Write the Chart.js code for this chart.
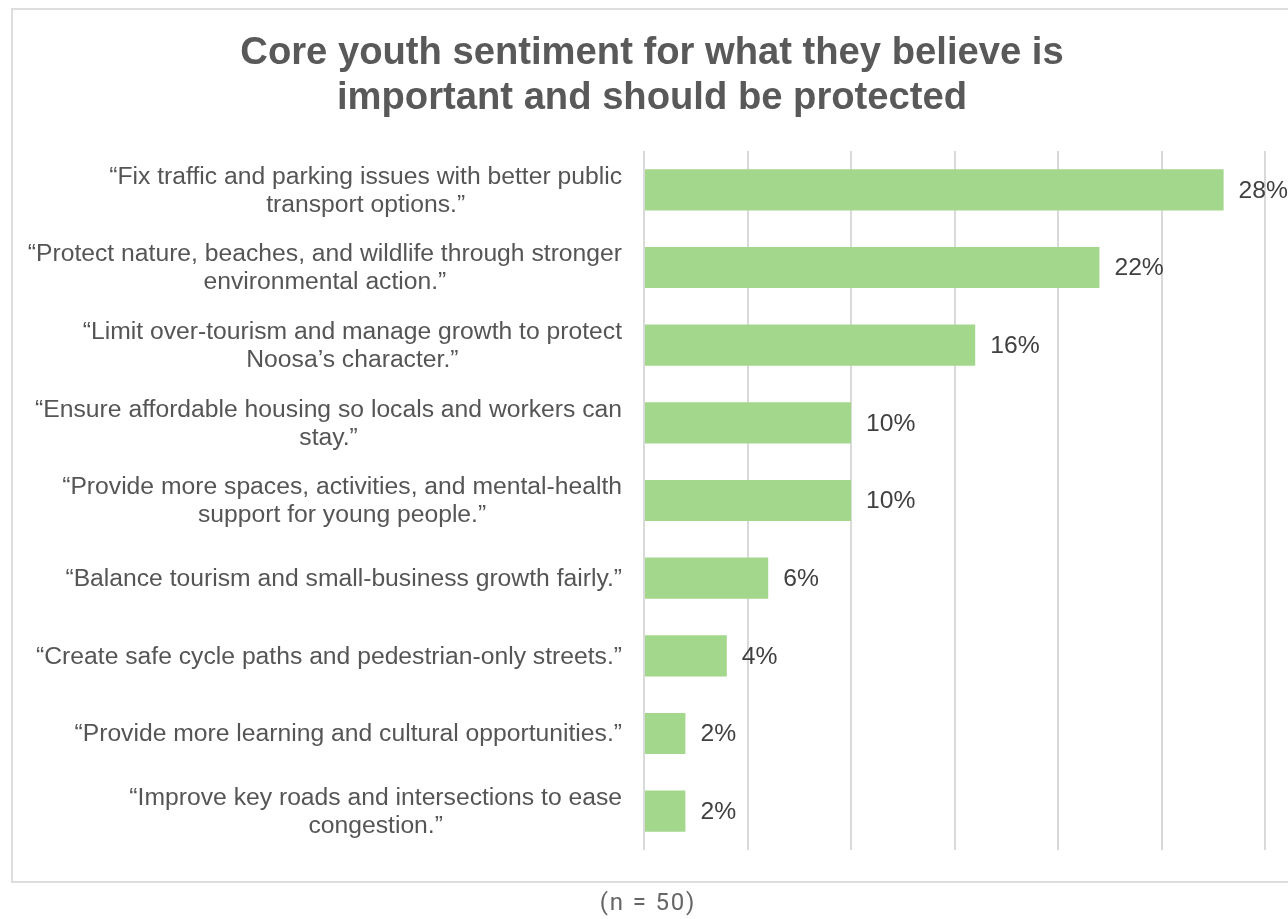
<!DOCTYPE html>
<html>
<head>
<meta charset="utf-8">
<script src="https://cdn.jsdelivr.net/npm/chart.js@4/dist/chart.umd.min.js"></script>
<style>
  html, body { margin: 0; padding: 0; background: #fff; }
  body { width: 1288px; height: 919px; position: relative; overflow: hidden; }
  #frame {
    position: absolute; left: 11px; top: 8px;
    width: 1300px; height: 871px;
    border: 2px solid #dddddd;
  }
  #wrap { position: absolute; left: 0; top: 0; width: 1288px; height: 919px; }
  #note {
    position: absolute; left: 0; width: 1296px; top: 888px;
    text-align: center; font-family: Roboto, "Noto Sans", sans-serif;
    font-size: 24px; letter-spacing: 1.8px; color: #666;
  }
</style>
</head>
<body>
<div id="frame"></div>
<div id="wrap"><canvas id="chart"></canvas></div>
<div id="note">(n = 50)</div>
<script>
const titleLines = ['Core youth sentiment for what they believe is', 'important and should be protected'];

const answers = [
  ['“Fix traffic and parking issues with better public', 'transport options.”'],
  ['“Protect nature, beaches, and wildlife through stronger', 'environmental action.”'],
  ['“Limit over-tourism and manage growth to protect', 'Noosa’s character.”'],
  ['“Ensure affordable housing so locals and workers can', 'stay.”'],
  ['“Provide more spaces, activities, and mental-health', 'support for young people.”'],
  ['“Balance tourism and small-business growth fairly.”'],
  ['“Create safe cycle paths and pedestrian-only streets.”'],
  ['“Provide more learning and cultural opportunities.”'],
  ['“Improve key roads and intersections to ease', 'congestion.”']
];
const shares = [28, 22, 16, 10, 10, 6, 4, 2, 2];

const FONT = '"Liberation Sans", Arial, sans-serif';

// title, centred over the frame
const titlePlugin = {
  id: 'titleText',
  afterDraw(chart) {
    const ctx = chart.ctx;
    ctx.save();
    ctx.font = 'bold 38.2px ' + FONT;
    ctx.fillStyle = '#595959';
    ctx.textAlign = 'center';
    ctx.textBaseline = 'alphabetic';
    titleLines.forEach((line, i) => ctx.fillText(line, 652, 64 + i * 45));
    ctx.restore();
  }
};

// category labels: block right-aligned to the plot, lines centred inside the block
const answerLabels = {
  id: 'answerLabels',
  afterDraw(chart) {
    const ctx = chart.ctx;
    const y = chart.scales.y;
    const right = chart.chartArea.left - 22;
    const lh = 28;
    ctx.save();
    ctx.font = '24.7px ' + FONT;
    ctx.fillStyle = '#555555';
    ctx.textAlign = 'center';
    ctx.textBaseline = 'middle';
    answers.forEach((lines, i) => {
      const w = Math.max(...lines.map(l => ctx.measureText(l).width));
      const cx = right - w / 2;
      const cy = y.getPixelForTick(i) + 1;
      const top = cy - (lines.length - 1) * lh / 2;
      lines.forEach((l, j) => ctx.fillText(l, cx, top + j * lh));
    });
    ctx.restore();
  }
};

// percentage next to each bar
const valueLabels = {
  id: 'valueLabels',
  afterDatasetsDraw(chart) {
    const ctx = chart.ctx;
    const meta = chart.getDatasetMeta(0);
    ctx.save();
    ctx.font = '24.7px ' + FONT;
    ctx.fillStyle = '#404040';
    ctx.textAlign = 'left';
    ctx.textBaseline = 'middle';
    meta.data.forEach((bar, i) => {
      ctx.fillText(shares[i] + '%', bar.x + 15, bar.y + 1);
    });
    ctx.restore();
  }
};

new Chart(document.getElementById('chart').getContext('2d'), {
  type: 'bar',
  data: {
    labels: answers,
    datasets: [{
      data: shares,
      backgroundColor: '#a2d78c',
      borderWidth: 0,
      barPercentage: 0.53,
      categoryPercentage: 1
    }]
  },
  options: {
    indexAxis: 'y',
    responsive: true,
    maintainAspectRatio: false,
    animation: false,
    layout: { padding: { left: 644, right: 23, top: 151, bottom: 69 } },
    scales: {
      x: {
        min: 0,
        max: 30,
        ticks: { stepSize: 5, display: false },
        grid: { color: '#d9d9d9', lineWidth: 2, drawTicks: false },
        border: { display: false }
      },
      y: {
        display: false
      }
    },
    plugins: {
      legend: { display: false },
      tooltip: { enabled: false }
    }
  },
  plugins: [titlePlugin, answerLabels, valueLabels]
});
</script>
</body>
</html>
